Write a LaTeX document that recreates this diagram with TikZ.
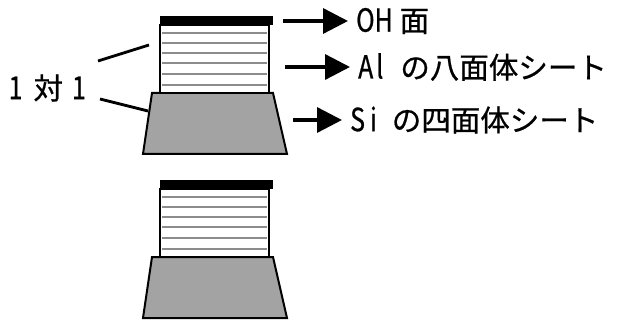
\documentclass[tikz,border=0pt]{standalone}
\usepackage{fontspec}
\setmainfont{Noto Sans CJK JP}[FakeBold=0.6]
\newfontfamily\narrowfont[FakeStretch=0.78,Scale=1.08,FakeBold=0.6]{Noto Sans CJK JP}
\usetikzlibrary{arrows.meta,positioning}

\tikzset{
  edge/.style={line width=2pt, line join=miter},
  sheetline/.style={black!45, line width=1.4pt},
  lbl/.style={inner sep=0pt, font=\fontsize{29.5pt}{32pt}\selectfont},
  ptr/.style={line width=3.4pt, -{Triangle[length=25pt,width=25pt]}, shorten >=8pt},
  bond/.style={line width=2.8pt}
}
\newcommand{\hw}[1]{{\narrowfont #1}}

\begin{document}
\begin{tikzpicture}[x=1pt, y=-1pt]
  \useasboundingbox (0,0) rectangle (625,321);

  % two clay layers, one above the other
  \foreach \dy [count=\i] in {0,164} {
    \begin{scope}[yshift=-\dy pt]
      % Si tetrahedral sheet
      \draw[edge, fill=black!36] (152,93) -- (273,93) -- (287,154) -- (143,154) -- cycle;
      % Al octahedral sheet
      \draw[edge, fill=white] (160,25) rectangle (269,93);
      \foreach \y in {33,43,53,63,74,85}
        \draw[sheetline] (162,\y) -- (267,\y);
      % OH surface
      \fill (160,16) rectangle (273,25);
      \coordinate (oh\i) at (283,21);
      \coordinate (al\i) at (285,67);
      \coordinate (si\i) at (293,120);
      \coordinate (up\i) at (149,45);
      \coordinate (lo\i) at (148,111);
    \end{scope}
  }

  % labels of the upper layer
  \node[lbl, anchor=west] (ohtext) at (356,21) {\hw{OH}\hspace{7pt}面};
  \node[lbl, anchor=west] (altext) at (358,67) {\hw{A\hspace{3pt}l}\hspace{17pt}の八面体シート};
  \node[lbl, anchor=west] (sitext) at (350,120) {\hw{S\hspace{5pt}i}\hspace{15pt}の四面体シート};
  \draw[ptr] (oh1) -- (ohtext.west);
  \draw[ptr] (al1) -- (altext.west);
  \draw[ptr] (si1) -- (sitext.west);

  \node[lbl, anchor=east] (ratio) at (86,88) {\hw{1}\hspace{11pt}対\hspace{9pt}\hw{1}};
  \draw[bond] ([xshift=12pt,yshift=27pt]ratio.east) -- (up1);
  \draw[bond] ([xshift=14pt,yshift=-11pt]ratio.east) -- (lo1);
\end{tikzpicture}
\end{document}
